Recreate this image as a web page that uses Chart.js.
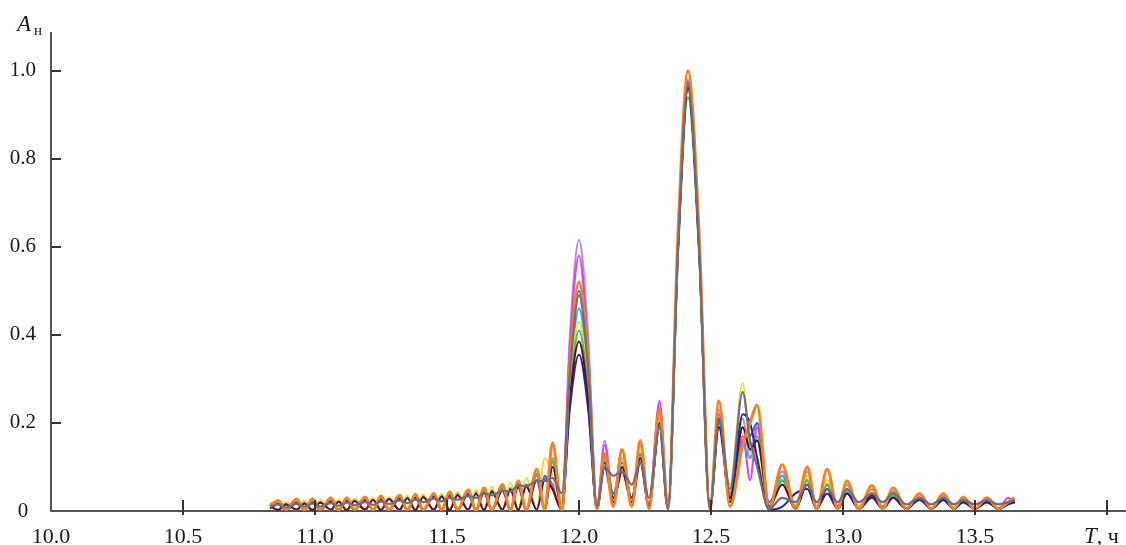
<!DOCTYPE html>
<html>
<head>
<meta charset="utf-8">
<script src="https://cdn.jsdelivr.net/npm/chart.js@4/dist/chart.umd.min.js"></script>
<style>
  body { margin: 0; background: #fff; }
</style>
</head>
<body>
<canvas id="myChart" width="1126" height="545"></canvas>
<script>
// period, hours
const hours = [
  10.83, 10.86, 10.89, 10.93, 10.96, 10.99, 11.02, 11.06, 11.09, 11.12, 11.15, 11.19, 11.22, 11.25, 11.28, 11.32, 11.35, 11.38,
  11.41, 11.45, 11.48, 11.51, 11.54, 11.58, 11.61, 11.64, 11.67, 11.71, 11.74, 11.77, 11.80, 11.84, 11.87, 11.90, 11.935,
  11.965, 12.0, 12.035, 12.068, 12.097, 12.13, 12.163, 12.2, 12.232, 12.265, 12.305, 12.337, 12.375, 12.413, 12.455, 12.496,
  12.53, 12.572, 12.62, 12.648, 12.675, 12.72,
  12.77, 12.82, 12.865, 12.90, 12.94, 12.98, 13.015, 13.06, 13.11, 13.15, 13.19, 13.24, 13.29, 13.335, 13.38, 13.42,
  13.455, 13.50, 13.545, 13.59, 13.625, 13.65
];

// normalised amplitude, one array per curve
const grayCurve = [
  .010, .015, .008, .016, .010, .017, .010, .018, .012, .019, .013, .020, .014, .022, .016, .024, .018, .026,
  .020, .028, .022, .030, .026, .034, .030, .040, .036, .046, .044, .058, .056, .068, .068, .075, .040,
  .31, .49, .32, .01, .10, .08, .09, .06, .11, .03, .19, .005, .60, .965, .60, .005,
  .21, .05, .27, .16, .10, .005,
  .03, .02, .06, .02, .05, .02, .05, .02, .04, .02, .04, .015, .03, .015, .03, .015, .025, .015, .025, .015, .02, .025
];
const orangeCurve = [
  .012, .024, .003, .027, .002, .028, .003, .030, .002, .030, .003, .032, .002, .034, .003, .036, .002, .038,
  .003, .040, .002, .044, .003, .048, .002, .052, .003, .060, .002, .068, .003, .095, .004, .155, .002,
  .33, .52, .34, .005, .13, .01, .14, .01, .16, .005, .23, .005, .63, 1.0, .63, .005,
  .25, .01, .15, .20, .24, .005,
  .105, .005, .10, .005, .095, .005, .068, .005, .058, .005, .052, .005, .04, .005, .04, .005, .032, .005, .03, .005, .02, .03
];
const violetCurve = [
  .010, .019, .003, .021, .002, .023, .003, .024, .002, .025, .003, .027, .002, .029, .003, .031, .002, .033,
  .003, .035, .002, .037, .003, .040, .002, .044, .003, .050, .002, .060, .003, .082, .004, .120, .002,
  .39, .616, .39, .005, .16, .03, .14, .02, .15, .01, .24, .005, .61, .98, .61, .005,
  .23, .03, .21, .12, .20, .01,
  .09, .01, .09, .01, .07, .01, .06, .005, .05, .005, .045, .005, .035, .005, .035, .005, .03, .005, .028, .005, .02, .025
];
const magentaCurve = [
  .018, .003, .020, .003, .022, .002, .024, .003, .025, .002, .027, .003, .028, .002, .030, .003, .032, .002,
  .034, .003, .036, .002, .038, .003, .041, .002, .045, .003, .050, .003, .058, .004, .075, .060, .002,
  .37, .58, .36, .005, .15, .02, .12, .01, .13, .015, .25, .005, .61, .97, .61, .005,
  .22, .04, .17, .07, .19, .005,
  .08, .005, .07, .01, .06, .005, .05, .01, .045, .005, .04, .005, .035, .005, .04, .005, .03, .005, .03, .005, .03, .02
];
const blueCurve = [
  .015, .003, .018, .002, .020, .003, .022, .002, .024, .003, .026, .002, .028, .003, .030, .002, .032, .003,
  .035, .002, .037, .003, .040, .002, .043, .003, .047, .002, .052, .003, .060, .003, .080, .050, .002,
  .32, .50, .33, .005, .12, .04, .11, .03, .13, .01, .21, .005, .61, .975, .61, .005,
  .21, .03, .16, .17, .20, .02,
  .07, .01, .08, .005, .06, .01, .05, .005, .045, .01, .04, .005, .035, .005, .03, .005, .03, .005, .025, .005, .02, .025
];
const cyanCurve = [
  .008, .018, .004, .020, .003, .022, .004, .024, .003, .025, .004, .027, .003, .029, .004, .032, .003, .035,
  .004, .038, .003, .040, .004, .043, .003, .048, .004, .055, .003, .065, .004, .080, .005, .110, .002,
  .29, .46, .30, .005, .12, .02, .10, .02, .12, .01, .20, .005, .60, .96, .60, .005,
  .20, .02, .15, .12, .17, .01,
  .08, .005, .07, .005, .06, .005, .045, .005, .04, .005, .035, .005, .03, .005, .03, .005, .025, .005, .025, .005, .02, .02
];
const limeCurve = [
  .020, .003, .021, .002, .023, .003, .025, .002, .026, .003, .028, .002, .030, .003, .032, .002, .035, .003,
  .038, .002, .040, .003, .044, .002, .048, .003, .055, .002, .065, .003, .075, .004, .120, .080, .002,
  .28, .43, .28, .005, .11, .03, .12, .02, .14, .01, .21, .005, .59, .955, .59, .005,
  .19, .06, .29, .14, .12, .01,
  .06, .01, .08, .01, .07, .005, .05, .01, .045, .005, .04, .005, .035, .005, .03, .005, .03, .005, .025, .005, .02, .02
];
const greenCurve = [
  .010, .020, .003, .022, .002, .023, .003, .024, .002, .026, .003, .028, .002, .030, .003, .032, .002, .034,
  .003, .036, .002, .039, .003, .042, .002, .046, .003, .052, .002, .062, .003, .085, .004, .115, .002,
  .26, .41, .27, .005, .11, .03, .10, .02, .13, .01, .20, .005, .58, .94, .58, .005,
  .20, .04, .19, .15, .16, .01,
  .07, .01, .07, .005, .06, .005, .05, .005, .04, .005, .035, .005, .03, .005, .03, .005, .025, .005, .02, .005, .015, .02
];
const maroonCurve = [
  .012, .002, .015, .003, .017, .002, .019, .003, .021, .002, .023, .003, .025, .002, .027, .003, .029, .002,
  .031, .003, .033, .002, .036, .003, .039, .002, .043, .003, .048, .002, .056, .003, .070, .050, .002,
  .25, .385, .25, .005, .10, .02, .09, .02, .11, .01, .19, .005, .59, .96, .59, .005,
  .19, .03, .19, .14, .16, .01,
  .06, .005, .06, .005, .05, .005, .04, .005, .035, .005, .03, .005, .03, .005, .025, .005, .02, .005, .02, .005, .015, .02
];
const navyCurve = [
  .006, .016, .002, .018, .003, .019, .002, .021, .003, .022, .002, .024, .003, .026, .002, .028, .003, .030,
  .002, .033, .003, .035, .002, .038, .003, .041, .002, .046, .003, .054, .002, .070, .003, .100, .002,
  .23, .355, .23, .005, .11, .03, .10, .03, .12, .01, .20, .005, .60, .965, .60, .005,
  .21, .02, .22, .20, .12, .003,
  .01, .04, .05, .005, .04, .005, .04, .005, .03, .005, .03, .005, .025, .005, .025, .005, .02, .005, .02, .005, .015, .02
];

const xTicks = [10.0, 10.5, 11.0, 11.5, 12.0, 12.5, 13.0, 13.5, 14.0];
const xTickLabels = ['10.0', '10.5', '11.0', '11.5', '12.0', '12.5', '13.0', '13.5', ''];
const yTicks = [0, 0.2, 0.4, 0.6, 0.8, 1.0];
const yTickLabels = ['0', '0.2', '0.4', '0.6', '0.8', '1.0'];

const serif = '"Liberation Serif", "Times New Roman", serif';

function makeLine(values, color, width) {
  return {
    data: hours.map((h, i) => ({ x: h, y: values[i] })),
    borderColor: color,
    borderWidth: width,
    pointRadius: 0,
    cubicInterpolationMode: 'monotone',
    fill: false
  };
}

// tick marks and axis titles the way the original draws them
const axisDecor = {
  id: 'axisDecor',
  afterDraw(chart) {
    const ctx = chart.ctx;
    const xs = chart.scales.x;
    const ys = chart.scales.y;
    const y0 = ys.getPixelForValue(0);
    ctx.save();
    ctx.strokeStyle = '#333';
    ctx.lineWidth = 2;
    ctx.beginPath();
    for (let i = 1; i < xTicks.length; i++) {
      const px = Math.round(xs.getPixelForValue(xTicks[i]));
      ctx.moveTo(px, y0 - 11);
      ctx.lineTo(px, y0 + 4);
    }
    for (let i = 1; i < yTicks.length; i++) {
      const py = Math.round(ys.getPixelForValue(yTicks[i]));
      ctx.moveTo(xs.left, py);
      ctx.lineTo(xs.left + 10, py);
    }
    ctx.stroke();

    ctx.fillStyle = '#1a1a1a';
    ctx.textBaseline = 'alphabetic';
    ctx.textAlign = 'left';
    ctx.font = 'italic 23px ' + serif;
    ctx.fillText('A', 17, 31);
    ctx.font = '15px ' + serif;
    ctx.fillText('н', 34, 35);

    const tx = xs.getPixelForValue(14.0);
    ctx.font = 'italic 23px ' + serif;
    ctx.fillText('T', tx - 23, 543);
    const tw = ctx.measureText('T').width;
    ctx.font = '22px ' + serif;
    ctx.fillText(', ч', tx - 23 + tw, 543);
    ctx.restore();
  }
};

new Chart(document.getElementById('myChart'), {
  type: 'line',
  data: {
    datasets: [
      makeLine(grayCurve, '#6e6e80', 2.2),
      makeLine(orangeCurve, '#f5821f', 3),
      makeLine(navyCurve, '#2a2280', 2),
      makeLine(maroonCurve, '#5c0a2a', 2),
      makeLine(greenCurve, '#58b848', 2),
      makeLine(limeCurve, '#e2e23a', 2),
      makeLine(cyanCurve, '#2cb6d8', 2),
      makeLine(blueCurve, '#2f6fd0', 2),
      makeLine(magentaCurve, '#e03ee0', 2),
      makeLine(violetCurve, '#b88ae8', 2.2)
    ]
  },
  options: {
    responsive: false,
    animation: false,
    layout: { padding: { top: 33, right: 0, left: 0, bottom: 0 } },
    plugins: {
      legend: { display: false },
      tooltip: { enabled: false }
    },
    scales: {
      x: {
        type: 'linear',
        min: 10,
        max: 14.072,
        afterBuildTicks: (scale) => { scale.ticks = xTicks.map(v => ({ value: v })); },
        afterFit: (scale) => { scale.height = 34; },
        grid: { display: false },
        border: { display: true, color: '#555', width: 2 },
        ticks: {
          autoSkip: false,
          maxRotation: 0,
          padding: 5,
          color: '#1a1a1a',
          font: { family: serif, size: 22 },
          callback: (value, index) => xTickLabels[index]
        }
      },
      y: {
        min: 0,
        max: 1.086,
        afterBuildTicks: (scale) => { scale.ticks = yTicks.map(v => ({ value: v })); },
        afterFit: (scale) => { scale.width = 51; },
        grid: { display: false },
        border: { display: true, color: '#555', width: 2 },
        ticks: {
          padding: 7,
          crossAlign: 'center',
          color: '#1a1a1a',
          font: { family: serif, size: 21 },
          callback: (value, index) => yTickLabels[index]
        }
      }
    }
  },
  plugins: [axisDecor]
});
</script>
</body>
</html>
